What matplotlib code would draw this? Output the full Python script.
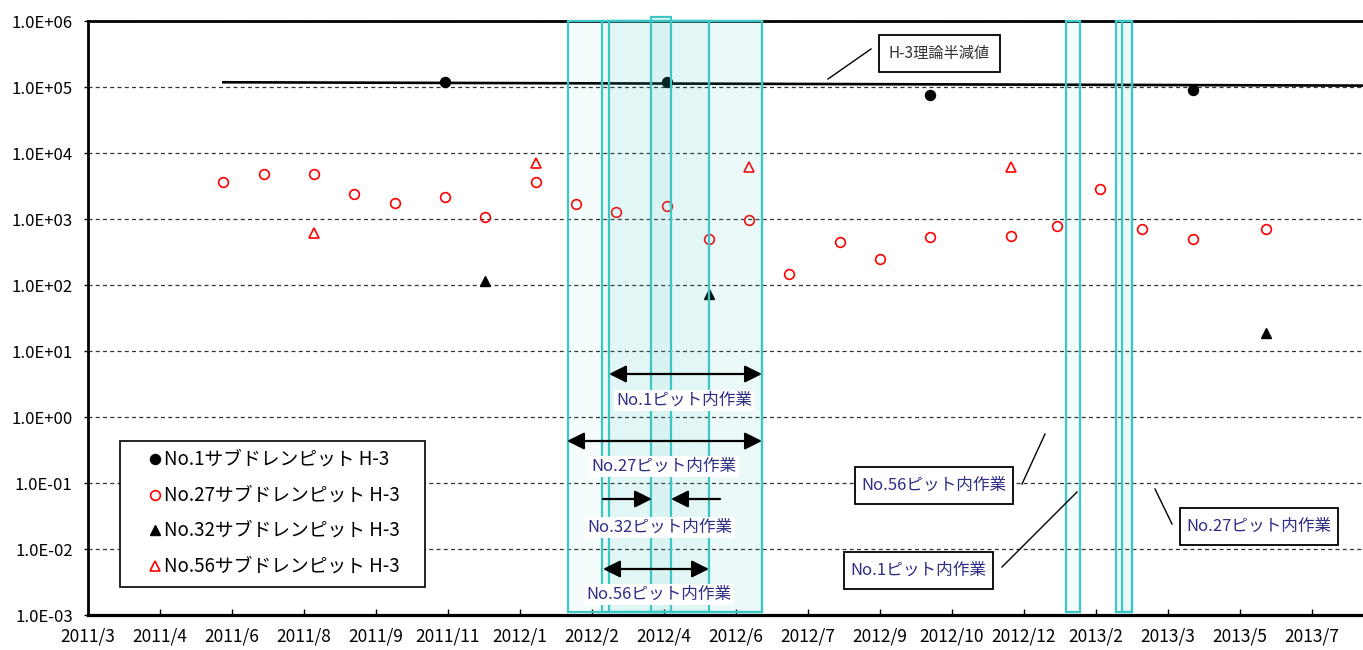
import numpy as np
import pandas as pd
import matplotlib
matplotlib.use("Agg")
import matplotlib.pyplot as plt
from matplotlib.patches import Rectangle

plt.rcParams['font.family'] = ['Noto Sans CJK JP', 'DejaVu Sans']

# ---- data ----
no1_dates = ['2011-11-13', '2012-04-15', '2012-10-15', '2013-04-15']
no1_vals = [1.19e5, 1.20e5, 7.5e4, 9.0e4]

no27_dates = ['2011-06-12', '2011-07-10', '2011-08-14', '2011-09-11', '2011-10-09',
              '2011-11-13', '2011-12-11', '2012-01-15', '2012-02-12', '2012-03-11',
              '2012-04-15', '2012-05-14', '2012-06-11', '2012-07-09', '2012-08-13',
              '2012-09-10', '2012-10-15', '2012-12-10', '2013-01-11', '2013-02-10',
              '2013-03-11', '2013-04-15', '2013-06-05']
no27_vals = [3.6e3, 4.8e3, 4.8e3, 2.4e3, 1.75e3, 2.15e3, 1.07e3, 3.6e3, 1.69e3, 1.28e3,
             1.57e3, 490, 955, 147, 444, 245, 533, 547, 774, 2.85e3, 705, 503, 713]

no32_dates = ['2011-12-11', '2012-05-14', '2013-06-05']
no32_vals = [115, 73, 18.5]

no56_dates = ['2011-08-14', '2012-01-15', '2012-06-11', '2012-12-10']
no56_vals = [607, 7.0e3, 6.1e3, 6.1e3]

# 理論半減値: start / end of the drawn line
decay_dates = ['2011-06-12', '2013-08-11']
decay_vals = [1.18e5, 1.05e5]

# ピット内作業 periods
period_start = ['2012-02-06', '2012-03-06', '2012-03-01', '2012-04-04',
                '2013-01-17', '2013-02-21', '2013-02-25']
period_end = ['2012-06-20', '2012-06-20', '2012-05-14', '2012-04-18',
              '2013-01-27', '2013-03-04', '2013-03-04']

series_labels = ['No.1サブドレンピット H-3', 'No.27サブドレンピット H-3',
                 'No.32サブドレンピット H-3', 'No.56サブドレンピット H-3']

x_tick_labels = ['2011/3', '2011/4', '2011/6', '2011/8', '2011/9', '2011/11',
                 '2012/1', '2012/2', '2012/4', '2012/6', '2012/7', '2012/9',
                 '2012/10', '2012/12', '2013/2', '2013/3', '2013/5', '2013/7']
x_start = pd.Timestamp('2011-03-10')
x_step_days = 50

NAVY = '#2e2e86'
CYAN = '#3cc6c6'

styles = [
    dict(marker='o', color='black', ms=7.2),
    dict(marker='o', mfc='none', mec='red', mew=1.2, ms=7),
    dict(marker='^', color='black', ms=7.5),
    dict(marker='^', mfc='none', mec='red', mew=1.2, ms=7.5),
]

fig = plt.figure(figsize=(13.63, 6.5), dpi=100)
W, H = 1363, 650
ax = fig.add_axes([88 / W, 1 - 615 / H, 1 - 88 / W, (615 - 21) / H])

D = pd.to_datetime
ax.plot(D(decay_dates), decay_vals, color='black', lw=1.9, zorder=3)
for dts, vals, st in zip([no1_dates, no27_dates, no32_dates, no56_dates],
                         [no1_vals, no27_vals, no32_vals, no56_vals], styles):
    ax.plot(D(dts), vals, ls='none', zorder=4, **st)

ax.set_yscale('log')
ax.set_ylim(1e-3, 1e6)
ax.set_xlim(x_start, x_start + pd.Timedelta(days=885.4))

for s, e in zip(D(period_start), D(period_end)):
    top = 1.006 if (e - s).days < 20 and s.year == 2012 else 1.0
    ax.axvspan(s, e, ymin=0.005, ymax=top, facecolor=CYAN, alpha=0.05,
               edgecolor='none', zorder=5, clip_on=False)
    ax.axvspan(s, e, ymin=0.005, ymax=top, facecolor='none',
               edgecolor=CYAN, lw=1.6, zorder=5, clip_on=False)

yt = [10.0 ** k for k in range(-3, 7)]
ax.set_yticks(yt)
ax.set_yticklabels(['%.1E' % v for v in yt])
ax.minorticks_off()
xt = [x_start + pd.Timedelta(days=x_step_days * i) for i in range(len(x_tick_labels))]
ax.set_xticks(xt)
ax.set_xticklabels(x_tick_labels)
ax.tick_params(axis='y', direction='out', length=3, width=1, pad=8, labelsize=12)
ax.tick_params(axis='x', direction='in', length=4, width=1, pad=9, labelsize=12.5)

ax.grid(axis='y', color='#333333', lw=0.9, ls=(0, (3.2, 2.6)))
ax.set_axisbelow(True)
ax.spines['right'].set_visible(False)
ax.spines['left'].set_linewidth(2.0)
ax.spines['top'].set_linewidth(2.0)
ax.spines['bottom'].set_linewidth(2.3)

# ---- annotation overlay in pixel coordinates ----
ov = fig.add_axes([0, 0, 1, 1])
ov.set_xlim(0, W)
ov.set_ylim(H, 0)
ov.axis('off')

# legend box
ov.add_patch(Rectangle((120, 441), 305, 146, fc='white', ec='black', lw=1.2, zorder=6))
for i, (lab, st) in enumerate(zip(series_labels, styles)):
    y = 459 + i * 35.7
    ov.plot([154.5], [y], ls='none', zorder=7, **st)
    ov.text(164, y, lab, ha='left', va='center', fontsize=13.5, zorder=7)

def darrow(x0, x1, y, style='<|-|>'):
    ov.annotate('', xy=(x1, y), xytext=(x0, y),
                arrowprops=dict(arrowstyle=style + ',head_length=0.4,head_width=0.2',
                                mutation_scale=26, lw=1.6, color='black',
                                shrinkA=0, shrinkB=0))

def inner_label(x, y, txt):
    ov.text(x, y, txt, ha='center', va='center', fontsize=12, color=NAVY,
            bbox=dict(boxstyle='square,pad=0.12', fc='white', ec='none'))

darrow(609, 762, 374)
inner_label(684, 400, 'No.1ピット内作業')
darrow(567, 762, 441)
inner_label(664, 466, 'No.27ピット内作業')
darrow(603, 652, 499, '-|>')
darrow(720, 671, 499, '-|>')
inner_label(660, 527, 'No.32ピット内作業')
darrow(603, 709, 569)
inner_label(659, 594, 'No.56ピット内作業')

def callout(x0, y0, x1, y1, txt, color, size, line):
    ov.add_patch(Rectangle((x0, y0), x1 - x0, y1 - y0, fc='white', ec='black', lw=1.3))
    ov.text((x0 + x1) / 2, (y0 + y1) / 2, txt, ha='center', va='center',
            fontsize=size, color=color)
    ov.plot(line[0], line[1], color='black', lw=1.0)

callout(879, 35, 1000, 72, 'H-3理論半減値', '#333333', 11, ([828, 871], [79, 49]))
callout(855, 467, 1013, 504, 'No.56ピット内作業', NAVY, 12, ([1022, 1045], [484, 434]))
callout(844, 552, 993, 589, 'No.1ピット内作業', NAVY, 12, ([1002, 1077], [567, 492]))
callout(1180, 508, 1338, 545, 'No.27ピット内作業', NAVY, 12, ([1172, 1155], [524, 489]))

fig.savefig('out.png', dpi=100)
